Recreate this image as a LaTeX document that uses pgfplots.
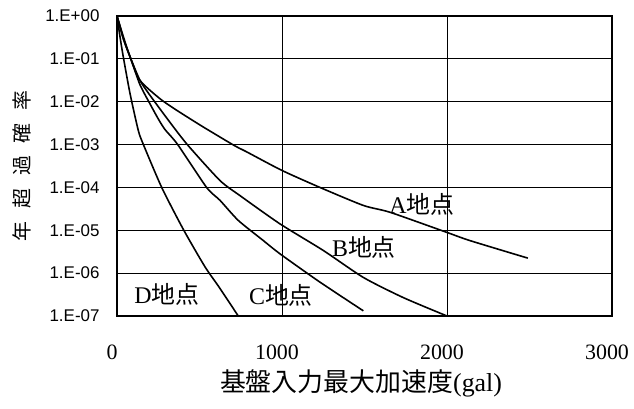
\documentclass[border=0pt]{standalone}
\usepackage{fontspec}
\setmainfont{Liberation Serif}
\newfontfamily\jp{Noto Sans CJK JP}
\newfontfamily\gothic{Liberation Sans}
\usepackage{pgfplots}
\pgfplotsset{compat=1.18}
\newcommand\yl[1]{\mbox{\gothic\fontsize{17}{17}\selectfont #1}}
\newcommand\xl[1]{\mbox{\fontsize{22}{22}\selectfont #1}}
\begin{document}
\begin{tikzpicture}
\begin{axis}[
    name=ax,
    width=495bp, height=300bp,
    scale only axis,
    xmin=0, xmax=3000,
    ymin=1e-7, ymax=1,
    ymode=log,
    xtick={0,1000,2000,3000},
    xticklabels={\xl{0},\xl{1000},\xl{2000},\xl{3000}},
    scaled x ticks=false,
    ytick={1e-7,1e-6,1e-5,1e-4,1e-3,1e-2,1e-1,1},
    yticklabels={\yl{1.E-07},\yl{1.E-06},\yl{1.E-05},\yl{1.E-04},\yl{1.E-03},\yl{1.E-02},\yl{1.E-01},\yl{1.E+00}},
    grid=major,
    major grid style={black, line width=0.8pt},
    axis line style={line width=1.8pt},
    major tick length=0pt,
    minor tick length=0pt,
    xticklabel style={anchor=center, yshift=-36bp, xshift=-5bp},
    yticklabel style={anchor=east, xshift=-14bp},
    xlabel={{\jp 基盤入力最大加速度}(gal)},
    xlabel style={font=\fontsize{26}{26}\selectfont, at={(axis description cs:0.493,0)}, anchor=center, yshift=-67bp},
    ylabel={\jp 年\hspace{0.65em}超\hspace{0.65em}過\hspace{0.65em}確\hspace{0.65em}率},
    ylabel style={font=\fontsize{20}{20}\selectfont, at={(axis description cs:0,0.5)}, anchor=center, yshift=95bp},
    curve/.style={black, line width=1.6pt, no markers, smooth, tension=0.4},
]
% A
\addplot[curve] coordinates {(0,1) (40,0.316) (79,0.112) (139,0.0316) (261,0.0117) (362,0.00631)
  (523,0.00257) (710,9.55e-4) (786,6.76e-4) (998,2.51e-4) (1230,1e-4) (1493,3.80e-5)
  (1655,2.63e-5) (2000,8.91e-6) (2139,5.75e-6) (2490,2.24e-6)};
% B
\addplot[curve] coordinates {(0,1) (40,0.282) (79,0.112) (139,0.0316) (200,0.0141) (311,0.00372)
  (426,0.001) (624,1.45e-4) (745,6.46e-5) (988,1.41e-5) (1250,3.39e-6) (1493,7.94e-7)
  (1735,2.69e-7) (2000,1e-7)};
% C
\addplot[curve] coordinates {(0,1) (40,0.282) (79,0.112) (139,0.0251) (200,0.00891) (250,0.00398)
  (291,0.00224) (368,0.001) (543,1e-4) (624,5.01e-5) (735,1.70e-5) (887,5.75e-6)
  (988,2.82e-6) (1230,6.17e-7) (1493,1.32e-7)};
% D
\addplot[curve] coordinates {(0,1) (18,0.331) (38,0.112) (79,0.0155) (129,0.00214) (160,0.001)
  (271,1e-4) (402,1.05e-5) (533,1.41e-6) (614,5.01e-7) (735,1e-7)};
\node[font=\fontsize{24}{24}\selectfont] at (axis cs:1848,4e-5) {A{\jp 地点}};
\node[font=\fontsize{24}{24}\selectfont] at (axis cs:1497,4e-6) {B{\jp 地点}};
\node[font=\fontsize{24}{24}\selectfont] at (axis cs:994,3e-7) {C{\jp 地点}};
\node[font=\fontsize{24}{24}\selectfont] at (axis cs:303,3.2e-7) {D{\jp 地点}};
\end{axis}
\pgfresetboundingbox
\path[use as bounding box] ([shift={(-117bp,-93bp)}]ax.south west) rectangle ([shift={(22bp,16bp)}]ax.north east);
\end{tikzpicture}
\end{document}
